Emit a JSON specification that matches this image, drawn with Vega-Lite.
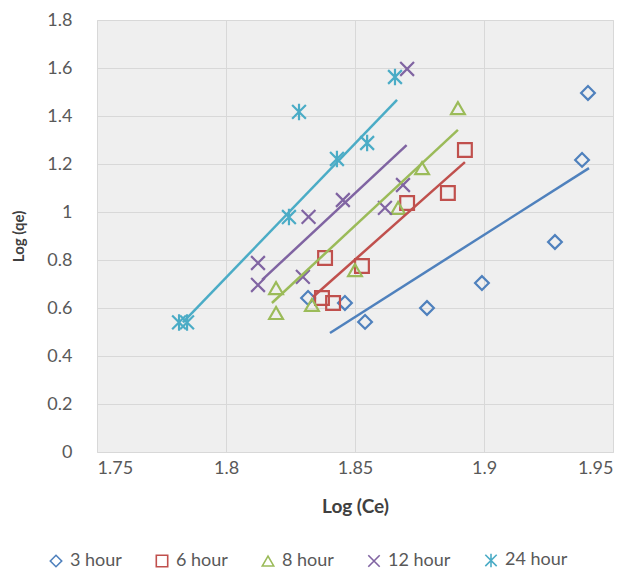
{
  "$schema": "https://vega.github.io/schema/vega-lite/v6.json",
  "width": 516,
  "height": 432,
  "autosize": {"type": "none"},
  "padding": {"left": 97, "top": 20, "right": 22, "bottom": 120},
  "background": "white",
  "config": {
    "font": "Lato",
    "view": {"fill": "#efefef", "stroke": "#d9d9d9"},
    "axis": {"gridColor": "#d8d8d8", "gridWidth": 1, "domain": false, "ticks": false, "labelColor": "#595959", "labelFontSize": 18, "titleColor": "#404040", "titleFontWeight": "bold", "labelFont": "Lato", "titleFont": "Lato"},
    "legend": {"labelFont": "Lato", "labelFontSize": 18, "labelColor": "#595959"}
  },
  "datasets": {
    "pts": [
      {"series": "3 hour", "x": 1.8318, "y": 0.642},
      {"series": "3 hour", "x": 1.8461, "y": 0.621},
      {"series": "3 hour", "x": 1.8539, "y": 0.542},
      {"series": "3 hour", "x": 1.8779, "y": 0.6},
      {"series": "3 hour", "x": 1.8992, "y": 0.704},
      {"series": "3 hour", "x": 1.9275, "y": 0.875},
      {"series": "3 hour", "x": 1.938, "y": 1.217},
      {"series": "3 hour", "x": 1.9403, "y": 1.496},
      {"series": "6 hour", "x": 1.8372, "y": 0.642},
      {"series": "6 hour", "x": 1.8415, "y": 0.621},
      {"series": "6 hour", "x": 1.8384, "y": 0.808},
      {"series": "6 hour", "x": 1.8527, "y": 0.775},
      {"series": "6 hour", "x": 1.8702, "y": 1.0375},
      {"series": "6 hour", "x": 1.886, "y": 1.079},
      {"series": "6 hour", "x": 1.8926, "y": 1.258},
      {"series": "8 hour", "x": 1.8194, "y": 0.683},
      {"series": "8 hour", "x": 1.8194, "y": 0.579},
      {"series": "8 hour", "x": 1.8333, "y": 0.6125},
      {"series": "8 hour", "x": 1.85, "y": 0.758},
      {"series": "8 hour", "x": 1.8667, "y": 1.017},
      {"series": "8 hour", "x": 1.876, "y": 1.183},
      {"series": "8 hour", "x": 1.8899, "y": 1.433},
      {"series": "12 hour", "x": 1.8124, "y": 0.7875},
      {"series": "12 hour", "x": 1.8124, "y": 0.696},
      {"series": "12 hour", "x": 1.8298, "y": 0.73},
      {"series": "12 hour", "x": 1.832, "y": 0.98},
      {"series": "12 hour", "x": 1.8453, "y": 1.05},
      {"series": "12 hour", "x": 1.8616, "y": 1.017},
      {"series": "12 hour", "x": 1.8686, "y": 1.1125},
      {"series": "12 hour", "x": 1.8702, "y": 1.596},
      {"series": "24 hour", "x": 1.7818, "y": 0.54},
      {"series": "24 hour", "x": 1.7849, "y": 0.54},
      {"series": "24 hour", "x": 1.8244, "y": 0.979},
      {"series": "24 hour", "x": 1.8283, "y": 1.417},
      {"series": "24 hour", "x": 1.843, "y": 1.221},
      {"series": "24 hour", "x": 1.8547, "y": 1.2875},
      {"series": "24 hour", "x": 1.8655, "y": 1.5625}
    ],
    "fits": [
      {"series": "3 hour", "x": 1.8403, "y": 0.496},
      {"series": "3 hour", "x": 1.9407, "y": 1.183},
      {"series": "6 hour", "x": 1.8337, "y": 0.646},
      {"series": "6 hour", "x": 1.8926, "y": 1.208},
      {"series": "8 hour", "x": 1.8178, "y": 0.621},
      {"series": "8 hour", "x": 1.8899, "y": 1.342},
      {"series": "12 hour", "x": 1.814, "y": 0.717},
      {"series": "12 hour", "x": 1.87, "y": 1.279},
      {"series": "24 hour", "x": 1.7833, "y": 0.54},
      {"series": "24 hour", "x": 1.8663, "y": 1.467}
    ]
  },
  "encoding": {
    "x": {"field": "x", "type": "quantitative", "scale": {"domain": [1.75, 1.95], "nice": false, "zero": false},
      "axis": {"values": [1.75, 1.8, 1.85, 1.9, 1.95], "format": ".2~f", "title": "Log (Ce)", "titleFontSize": 19, "labelPadding": 7, "titlePadding": 20}},
    "y": {"field": "y", "type": "quantitative", "scale": {"domain": [0, 1.8], "nice": false},
      "axis": {"values": [0, 0.2, 0.4, 0.6, 0.8, 1, 1.2, 1.4, 1.6, 1.8], "format": ".1~f", "title": "Log (qe)", "titleFontSize": 15, "labelPadding": 25, "titlePadding": 20}}
  },
  "layer": [
    {
      "data": {"name": "pts"},
      "mark": {"type": "point", "filled": false, "strokeWidth": 2.2, "size": 190, "opacity": 1},
      "encoding": {
        "color": {"field": "series", "type": "nominal", "title": null,
          "scale": {"domain": ["3 hour", "6 hour", "8 hour", "12 hour", "24 hour"], "range": ["#4f81bd", "#c0504d", "#9bbb59", "#8064a2", "#4bacc6"]},
          "legend": {"orient": "none", "legendX": -50, "legendY": 531, "direction": "horizontal", "symbolSize": 130, "symbolStrokeWidth": 1.6, "columnPadding": 31, "labelOffset": 5}},
        "shape": {"field": "series", "type": "nominal", "title": null,
          "scale": {"domain": ["3 hour", "6 hour", "8 hour", "12 hour", "24 hour"], "range": ["diamond", "square", "triangle-up", "M-1,-1L1,1M-1,1L1,-1", "M-1,-1L1,1M-1,1L1,-1M0,-1.2L0,1.2"]},
          "legend": {"orient": "none", "legendX": -50, "legendY": 531, "direction": "horizontal", "symbolSize": 130, "symbolStrokeWidth": 1.6, "columnPadding": 31, "labelOffset": 5}}
      }
    },
    {
      "data": {"name": "fits"},
      "mark": {"type": "line", "strokeWidth": 2.5},
      "encoding": {
        "color": {"field": "series", "type": "nominal"}
      }
    }
  ]
}
